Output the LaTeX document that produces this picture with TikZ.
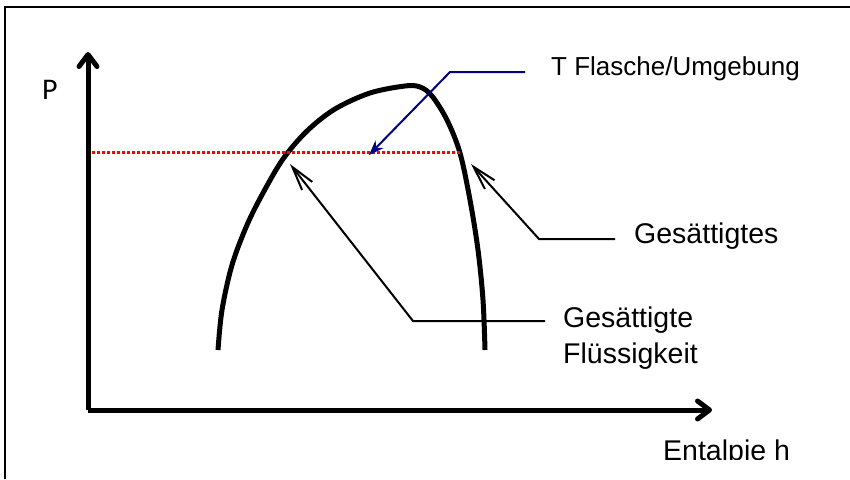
\documentclass[tikz,border=0pt]{standalone}
\usepackage{fontspec}
\setmainfont{Liberation Sans}
\newfontfamily\calibfont{Carlito}
\usetikzlibrary{arrows.meta}
\definecolor{navyline}{RGB}{0,0,128}
\definecolor{redline}{RGB}{255,0,0}
\begin{document}
\begin{tikzpicture}[x=1pt,y=-1pt,
  lbl/.style={anchor=base west, inner sep=0pt, align=left, font=\fontsize{28.5}{36}\selectfont},
  axisline/.style={line width=5pt, -{Straight Barb[length=12pt,width=18pt,line cap=round,line join=round]}},
  ptr/.style={line width=2pt, -{Straight Barb[length=24pt,width=13pt]}},
  tptr/.style={navyline, line width=2pt, -{Stealth[length=15pt,width=11pt]}},
  curveline/.style={line width=5pt},
  frameline/.style={line width=2pt}]
\useasboundingbox (0,0) rectangle (850,479);
% frame
\draw[frameline] (5,479) -- (5,6.5) -- (850,6.5);
% axes
\coordinate (origin) at (88,410);
\coordinate (ytip) at (88,52);
\coordinate (xtip) at (712,410);
\draw[axisline] (origin) -- (ytip);
\draw[axisline] (origin) -- (xtip);
% labels
\node[anchor=base west, inner sep=0pt, font=\calibfont\fontsize{30}{34}\selectfont] (plab) at (42,99) {P};
\begin{scope}
\clip (600,420) rectangle (850,459);
\node[lbl] (hlab) at (663,460) {Entalpie h};
\end{scope}
% saturation curve
\draw[curveline] plot[smooth, tension=0.55] coordinates {(218,350) (222,310) (232,265) (247,225) (263,193) (283,159) (307,131) (335,109) (370,93) (405,86) (420,87) (432,96) (447,120) (460,153) (470,200) (478,250) (483,300) (485,350)};
% isotherm / isobar
\coordinate (rstart) at (92,152);
\coordinate (rend) at (461,152);
\draw[redline, line width=3pt, dash pattern=on 2.5pt off 2.5pt] (rstart) -- (rend);
% T Flasche/Umgebung
\node[lbl, font=\fontsize{26}{30}\selectfont] (tlab) at (551,75) {T Flasche/Umgebung};
\coordinate (tstart) at (525,72);
\coordinate (tbend) at (450,72);
\coordinate (ttip) at (369,155);
\draw[tptr] (tstart) -- (tbend) -- (ttip);
% Gesättigtes
\node[lbl] (glab) at (634,243) {Gesättigtes};
\coordinate (gstart) at (615,239);
\coordinate (gbend) at (539,239);
\coordinate (gtip) at (471,164);
\draw[ptr] (gstart) -- (gbend) -- (gtip);
% Gesättigte Flüssigkeit
\node[lbl] (flab) at (563,363) {Gesättigte\\Flüssigkeit};
\coordinate (fstart) at (545,321);
\coordinate (fbend) at (413,321);
\coordinate (ftip) at (290,164);
\draw[ptr] (fstart) -- (fbend) -- (ftip);
\end{tikzpicture}
\end{document}
